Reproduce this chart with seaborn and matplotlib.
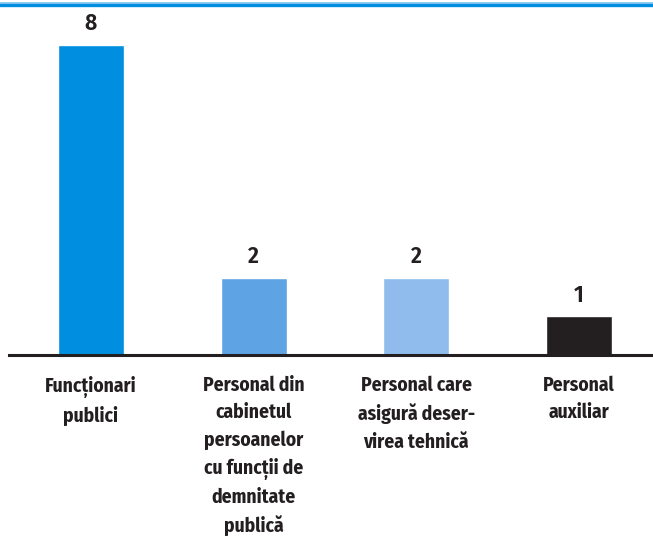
import matplotlib
matplotlib.use("Agg")
from matplotlib import pyplot as plt
from matplotlib.lines import Line2D
import seaborn as sns
import pandas as pd

# data
categories = ["Funcționari\npublici",
              "Personal din\ncabinetul\npersoanelor\ncu funcții de\ndemnitate\npublică",
              "Personal care\nasigură deser-\nvirea tehnică",
              "Personal\nauxiliar"]
values = [8, 2, 2, 1]
bar_colors = ["#008fe0", "#5ea3e4", "#8fbcec", "#231f20"]

sns.set_theme(style="white")
plt.rcParams['font.family'] = ['Fira Sans Condensed', 'DejaVu Sans']

df = pd.DataFrame({"cat": categories, "val": values})

fig = plt.figure(figsize=(6.53, 5.40), dpi=100)
ax = fig.add_axes([9 / 653, 1 - 355 / 540, 644 / 653, 310 / 540])

sns.barplot(data=df, x="cat", y="val", hue="cat", palette=bar_colors,
            width=0.405, legend=False, ax=ax, saturation=1)

for c in ax.containers:
    ax.bar_label(c, padding=7, fontsize=17, fontweight="semibold", color="#231f20")

ax.set_xlim(-0.504, 3.455)
ax.set_ylim(0, 8)
ax.set_xlabel("")
ax.set_ylabel("")
ax.set_yticks([])
ax.tick_params(axis="x", length=0, pad=15)
for lab in ax.get_xticklabels():
    lab.set_fontsize(14)
    lab.set_fontweight("bold")
    lab.set_color("#231f20")
    lab.set_verticalalignment("top")
    lab.set_linespacing(1.5)

for s in ["top", "left", "right"]:
    ax.spines[s].set_visible(False)
ax.spines["bottom"].set_color("#231f20")
ax.spines["bottom"].set_linewidth(2.2)

# blue band across the top
fig.add_artist(Line2D([0, 1], [1 - 3 / 540, 1 - 3 / 540], color="#7cc3ee", linewidth=1.2))
fig.add_artist(Line2D([0, 1], [1 - 5 / 540, 1 - 5 / 540], color="#008fe0", linewidth=2.4))

fig.savefig("out.png", dpi=100)
